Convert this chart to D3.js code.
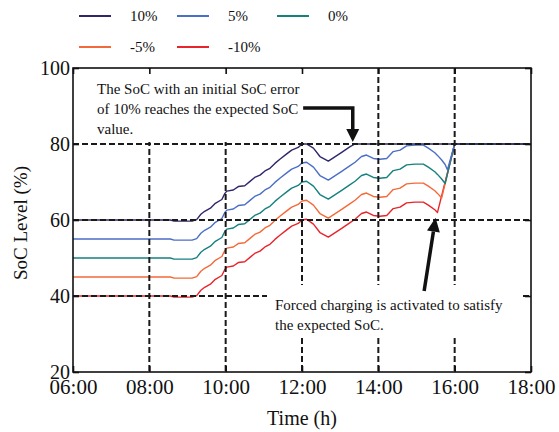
<!DOCTYPE html>
<html>
<head>
<meta charset="utf-8">
<script src="https://cdn.jsdelivr.net/npm/d3@7"></script>
<style>
  body { margin: 0; background: #fff; }
  text { font-family: "Liberation Serif", "Times New Roman", serif; fill: #111; }
</style>
</head>
<body>
<svg width="559" height="432"></svg>
<script>
// time of day (h) shared by all series; null = no sample for that series
var hours = [6, 8.55, 8.65, 9.12, 9.24, 9.35, 9.45, 9.6, 9.73, 9.9, 9.98, 10.03, 10.2, 10.33, 10.5, 10.63, 10.76, 10.9,
  11.03, 11.16, 11.29, 11.42, 11.6, 11.73, 11.9, 12.0, 12.12, 12.3, 12.47, 12.69, 12.86, 13.04, 13.26, 13.39, 13.56, 13.69,
  13.87, 14.04, 14.22, 14.39, 14.57, 14.74, 14.96, 15.18, 15.31, 15.48, 15.55, 15.66, 15.75, 15.81, 16.0, 18.0];

var soc10 = [60, 60, 59.7, 59.7, 60.1, 61.5, 62.3, 63.1, 64.4, 65.4, 67.0, 67.6, 67.9, 68.8, 69.0, 70.1, 71.2, 71.8,
  72.9, 73.6, 74.9, 76.0, 77.4, 78.4, 79.1, 80.0, 80.0, 78.9, 76.7, 75.5, 76.6, 77.8, 79.3, 80.0, null, null,
  null, null, null, null, null, null, null, null, null, null, null, null, null, null, 80, 80];
var soc5 = [55, 55, 54.7, 54.7, 55.1, 56.5, 57.3, 58.1, 59.4, 60.4, 62.0, 62.6, 62.9, 63.8, 64.0, 65.1, 66.2, 66.8,
  67.9, 68.6, 69.9, 71.0, 72.4, 73.4, 74.1, 75.0, 75.2, 73.9, 71.7, 70.5, 71.6, 72.8, 74.3, 75.2, 76.7, 77.1,
  76.2, 76.0, 76.2, 78.0, 78.4, 79.5, 79.7, 79.7, 78.9, 77.7, 77.0, 75.8, 74.6, 73.2, 80, 80];
var soc0 = [50, 50, 49.7, 49.7, 50.1, 51.5, 52.3, 53.1, 54.4, 55.4, 57.0, 57.6, 57.9, 58.8, 59.0, 60.1, 61.2, 61.8,
  62.9, 63.6, 64.9, 66.0, 67.4, 68.4, 69.1, 70.0, 70.2, 68.9, 66.7, 65.5, 66.6, 67.8, 69.3, 70.2, 71.7, 72.1,
  71.2, 71.0, 71.2, 73.0, 73.4, 74.5, 74.7, 74.7, 73.9, 72.7, 72.0, 70.8, 69.6, null, 80, 80];
var socM5 = [45, 45, 44.7, 44.7, 45.1, 46.5, 47.3, 48.1, 49.4, 50.4, 52.0, 52.6, 52.9, 53.8, 54.0, 55.1, 56.2, 56.8,
  57.9, 58.6, 59.9, 61.0, 62.4, 63.4, 64.1, 65.0, 65.2, 63.9, 61.7, 60.5, 61.6, 62.8, 64.3, 65.2, 66.7, 67.1,
  66.2, 66.0, 66.2, 68.0, 68.4, 69.5, 69.7, 69.7, 68.9, 67.7, 67.0, 65.8, null, null, 80, 80];
var socM10 = [40, 40, 39.7, 39.7, 40.1, 41.5, 42.3, 43.1, 44.4, 45.4, 47.0, 47.6, 47.9, 48.8, 49.0, 50.1, 51.2, 51.8,
  52.9, 53.6, 54.9, 56.0, 57.4, 58.4, 59.1, 60.0, 60.2, 58.9, 56.7, 55.5, 56.6, 57.8, 59.3, 60.2, 61.7, 62.1,
  61.2, 61.0, 61.2, 63.0, 63.4, 64.5, 64.7, 64.7, 63.9, 62.7, 62.0, null, null, null, 80, 80];

var labels = ["10%", "5%", "0%", "-5%", "-10%"];
var colors = ["#2e2868", "#4b6ec6", "#16807f", "#f36a3a", "#e8252b"];
var xTicks = [6, 8, 10, 12, 14, 16, 18];
var yTicks = [20, 40, 60, 80, 100];
var xGrid = [8, 10, 12, 14, 16];
var yGrid = [40, 60, 80];

var series = [soc10, soc5, soc0, socM5, socM10];

var svg = d3.select("svg");
var plotL = 73, plotT = 68, plotR = 531, plotB = 372;

var x = d3.scaleLinear().domain([6, 18]).range([plotL, plotR]);
var y = d3.scaleLinear().domain([20, 100]).range([plotB, plotT]);

var line = d3.line().x(function(d) { return x(d[0]); }).y(function(d) { return y(d[1]); });

// draw -10% first so the upper curves sit on top of the shared charging ramp
for (var s = series.length - 1; s >= 0; s--) {
  var pts = [];
  hours.forEach(function(h, i) { if (series[s][i] != null) pts.push([h, series[s][i]]); });
  svg.append("path")
    .attr("d", line(pts))
    .attr("fill", "none")
    .attr("stroke", colors[s])
    .attr("stroke-width", 1.4)
    .attr("stroke-linejoin", "round");
}

// dashed grid over the curves
var grid = svg.append("g").attr("stroke", "#1a1a1a").attr("stroke-width", 2).attr("stroke-dasharray", "6,3");
xGrid.forEach(function(v) {
  grid.append("line").attr("x1", x(v)).attr("x2", x(v)).attr("y1", plotT).attr("y2", plotB);
});
yGrid.forEach(function(v) {
  grid.append("line").attr("x1", plotL).attr("x2", plotR).attr("y1", y(v)).attr("y2", y(v));
});

// white boxes behind the annotation texts
svg.append("rect").attr("x", plotL + 1).attr("y", plotT + 1).attr("width", 233).attr("height", 73).attr("fill", "#fff");
svg.append("rect").attr("x", 267).attr("y", 285).attr("width", 253).attr("height", 53).attr("fill", "#fff");

var note1 = ["The SoC with an initial SoC error", "of 10% reaches the expected SoC", "value."];
svg.append("g").selectAll("text").data(note1).enter().append("text")
  .attr("x", 97).attr("y", function(d, i) { return 94 + i * 20; })
  .style("font-size", "15px").text(function(d) { return d; });

var note2 = ["Forced charging is activated to satisfy", "the expected SoC."];
svg.append("g").selectAll("text").data(note2).enter().append("text")
  .attr("x", 275).attr("y", function(d, i) { return 310 + i * 20; })
  .style("font-size", "15px").text(function(d) { return d; });

// arrows
svg.append("path")
  .attr("d", "M" + x(12.03) + "," + y(89.5) + "H" + x(13.33) + "V" + (y(80.5) - 12))
  .attr("fill", "none").attr("stroke", "#111").attr("stroke-width", 3.5);
svg.append("path")
  .attr("d", "M" + (x(13.33) - 6.5) + "," + (y(80.5) - 13) + "L" + (x(13.33) + 6.5) + "," + (y(80.5) - 13) + "L" + x(13.33) + "," + y(80.5) + "Z")
  .attr("fill", "#111");

var tail = [x(15.2), y(41.3)], tip = [x(15.5), y(60.6)];
var ang = Math.atan2(tip[1] - tail[1], tip[0] - tail[0]);
var hl = 14, hw = 6.5;
var base = [tip[0] - hl * Math.cos(ang), tip[1] - hl * Math.sin(ang)];
svg.append("line").attr("x1", tail[0]).attr("y1", tail[1]).attr("x2", base[0]).attr("y2", base[1])
  .attr("stroke", "#111").attr("stroke-width", 3.5);
svg.append("path")
  .attr("d", "M" + tip[0] + "," + tip[1] +
    "L" + (base[0] + hw * Math.sin(ang)) + "," + (base[1] - hw * Math.cos(ang)) +
    "L" + (base[0] - hw * Math.sin(ang)) + "," + (base[1] + hw * Math.cos(ang)) + "Z")
  .attr("fill", "#111");

// axes with inward ticks on all four sides
var fmt = function(d) { return d3.format("02d")(d) + ":00"; };
var axB = svg.append("g").attr("transform", "translate(0," + plotB + ")")
  .call(d3.axisBottom(x).tickValues(xTicks).tickFormat(fmt).tickSizeInner(-6).tickSizeOuter(0).tickPadding(7));
var axT = svg.append("g").attr("transform", "translate(0," + plotT + ")")
  .call(d3.axisTop(x).tickValues(xTicks).tickFormat("").tickSizeInner(-6).tickSizeOuter(0));
var axL = svg.append("g").attr("transform", "translate(" + plotL + ",0)")
  .call(d3.axisLeft(y).tickValues(yTicks).tickSizeInner(-6).tickSizeOuter(0).tickPadding(3));
var axR = svg.append("g").attr("transform", "translate(" + plotR + ",0)")
  .call(d3.axisRight(y).tickValues(yTicks).tickFormat("").tickSizeInner(-6).tickSizeOuter(0));
[axB, axT, axL, axR].forEach(function(a) {
  a.select(".domain").remove();
  a.selectAll(".tick line").attr("stroke", "#111").attr("stroke-width", 1.6);
  a.selectAll("text").attr("fill", "#111").style("font-family", "Liberation Serif").style("font-size", "20px");
});
axB.selectAll("text").style("font-size", "21px");

svg.append("rect").attr("x", plotL).attr("y", plotT).attr("width", plotR - plotL).attr("height", plotB - plotT)
  .attr("fill", "none").attr("stroke", "#111").attr("stroke-width", 1.6);

svg.append("text").attr("x", (plotL + plotR) / 2).attr("y", 425).attr("text-anchor", "middle")
  .style("font-size", "20px").text("Time (h)");
svg.append("text").attr("transform", "translate(27,223) rotate(-90)")
  .attr("text-anchor", "middle").style("font-size", "19px").text("SoC Level (%)");

// legend, two rows
var legX = [79, 177, 277, 79, 177], legY = [16, 16, 16, 47, 47];
labels.forEach(function(l, i) {
  svg.append("line").attr("x1", legX[i]).attr("x2", legX[i] + 32).attr("y1", legY[i]).attr("y2", legY[i])
    .attr("stroke", colors[i]).attr("stroke-width", 2);
  svg.append("text").attr("x", legX[i] + 51).attr("y", legY[i] + 5).style("font-size", "15px").text(l);
});
</script>
</body>
</html>
